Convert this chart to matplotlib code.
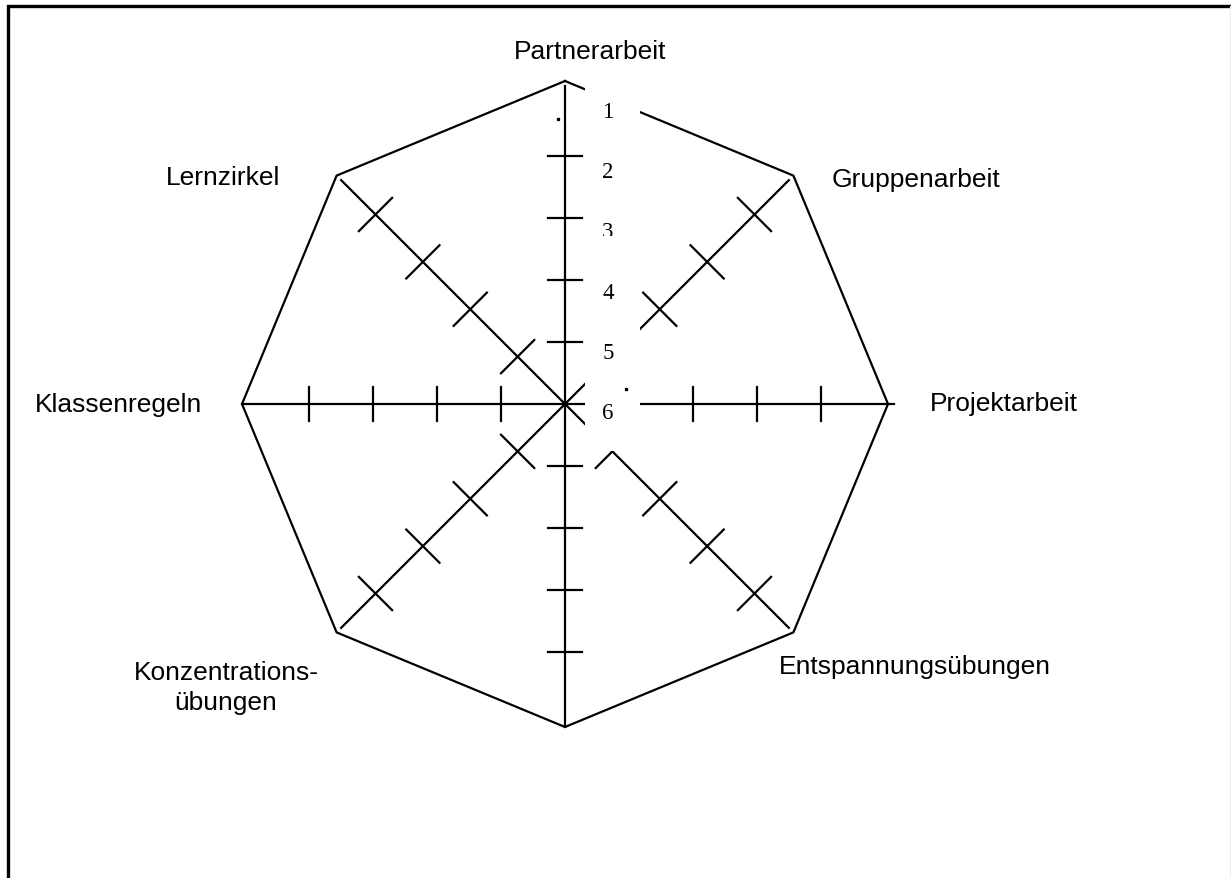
import numpy as np
import matplotlib
matplotlib.use("Agg")
import matplotlib.pyplot as plt
from matplotlib.patches import Rectangle

# ---- data ----
categories = ["Partnerarbeit", "Gruppenarbeit", "Projektarbeit",
              "Entspannungsübungen", "", "Konzentrations-\nübungen",
              "Klassenregeln", "Lernzirkel"]
angles_deg = [90, 45, 0, -45, -90, -135, 180, 135]
scale_labels = ["1", "2", "3", "4", "5", "6"]
tick_levels = [1, 2, 3, 4]

# ---- layout (pixel space) ----
W, H = 1231, 879
cx, cy = 565, 405
R = 323
fig = plt.figure(figsize=(W / 100, H / 100), dpi=100)
ax = fig.add_axes([0, 0, 1, 1])
ax.set_xlim(0, W)
ax.set_ylim(H, 0)
ax.axis("off")

lw = 1.6

def pt(r, a):
    t = np.deg2rad(a)
    return cx + r * np.cos(t), cy - r * np.sin(t)

# octagon
poly = [pt(R, a) for a in angles_deg] + [pt(R, angles_deg[0])]
ax.plot([p[0] for p in poly], [p[1] for p in poly], color="black", lw=lw, zorder=2)

# spokes + ticks
for a in angles_deg:
    diag = a % 90 != 0
    r_end = R * (0.98 if diag else 1.0)
    if a == 0:
        r_end = R + 6
    if a == 90:
        r_end = R - 5
    x1, y1 = pt(r_end, a)
    ax.plot([cx, x1], [cy, y1], color="black", lw=lw, zorder=2)
    if diag:
        step, half = 67, 23.5
    elif a in (90, -90):
        step, half = 62, 17
    else:
        step, half = 64, 17
    t = np.deg2rad(a)
    px, py = -np.sin(t), -np.cos(t)  # perpendicular in pixel space
    for k in tick_levels:
        mx, my = pt(k * step, a)
        ax.plot([mx - half * px, mx + half * px], [my - half * py, my + half * py],
                color="black", lw=lw, zorder=2)

# white box with scale numbers
ax.add_patch(Rectangle((585, 85), 55, 367, facecolor="white", edgecolor="none", zorder=3))
for i, s in enumerate(scale_labels):
    ax.text(608, 112 + 60.4 * i, s, fontsize=16.5, family="Liberation Serif",
            ha="center", va="center", zorder=4)
# clipped part of the "3"
ax.add_patch(Rectangle((595, 237), 30, 14, facecolor="white", edgecolor="none", zorder=5))
# stray dots
ax.plot([558, 626], [120, 390], "s", color="black", ms=1.5, zorder=4)

# category labels
label_pos = [(590, 52, "center"), (832, 180, "left"), (930, 404, "left"),
             (779, 667, "left"), (0, 0, "center"), (226, 688, "center"),
             (202, 405, "right"), (280, 178, "right")]
for lab, (x, y, ha) in zip(categories, label_pos):
    if lab:
        ax.text(x, y, lab, fontsize=19, family="Liberation Sans",
                ha=ha, va="center", multialignment="center", linespacing=1.35)

# frame
ax.plot([8, 8, W], [H, 7, 7], color="black", lw=2.4, solid_joinstyle="miter")
ax.plot([W - 1, W - 1], [7, H], color="#eeeeee", lw=0.8)

fig.savefig("out.png", dpi=100)
